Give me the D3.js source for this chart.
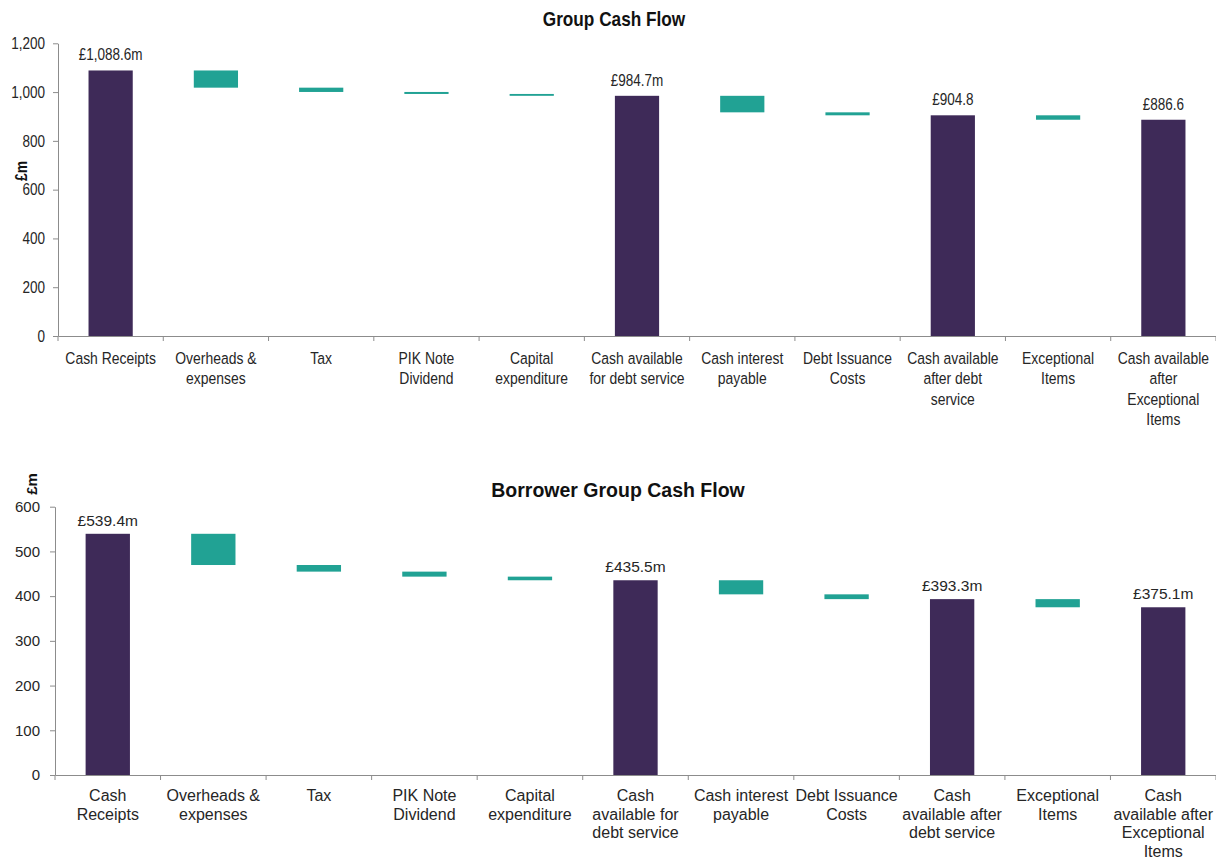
<!DOCTYPE html>
<html>
<head>
<meta charset="utf-8">
<script src="https://cdn.jsdelivr.net/npm/d3@7"></script>
<style>
  html, body { margin: 0; padding: 0; background: #fff; }
  svg { display: block; }
  svg text { font-family: "Liberation Sans", Arial, sans-serif; }
</style>
</head>
<body>
<svg id="chart" width="1216" height="858"></svg>
<script>
// Category labels, one array of lines per category
const groupCategories = [
  ["Cash Receipts"], ["Overheads &", "expenses"], ["Tax"], ["PIK Note", "Dividend"],
  ["Capital", "expenditure"], ["Cash available", "for debt service"], ["Cash interest", "payable"],
  ["Debt Issuance", "Costs"], ["Cash available", "after debt", "service"], ["Exceptional", "Items"],
  ["Cash available", "after", "Exceptional", "Items"]
];
const borrowerCategories = [
  ["Cash", "Receipts"], ["Overheads &", "expenses"], ["Tax"], ["PIK Note", "Dividend"],
  ["Capital", "expenditure"], ["Cash", "available for", "debt service"], ["Cash interest", "payable"],
  ["Debt Issuance", "Costs"], ["Cash", "available after", "debt service"], ["Exceptional", "Items"],
  ["Cash", "available after", "Exceptional", "Items"]
];

// Values in £m: positive entries are running totals, negative entries are outflows
const groupValues = [1088.6, -70.5, -17.6, -8.2, -7.6, 984.7, -67.7, -12.2, 904.8, -18.2, 886.6];
const borrowerValues = [539.4, -69.8, -14.8, -11.2, -8.1, 435.5, -31.5, -10.7, 393.3, -18.2, 375.1];

// Suffix printed after each total's value label
const groupLabelSuffix = ["m", "m", "", ""];
const borrowerLabelSuffix = ["m", "m", "m", "m"];

// Y axis ticks
const groupTicks = [0, 200, 400, 600, 800, 1000, 1200];
const borrowerTicks = [0, 100, 200, 300, 400, 500, 600];

const PURPLE = "#3e2a58";
const TEAL = "#21a294";
const AXIS = "#8c8c8c";
const TEXT = "#262626";

const svg = d3.select("#chart");

// Squeeze text horizontally about its anchor point
function condense(sel, k) {
  if (k === 1) return;
  sel.each(function () {
    const x = +this.getAttribute("x") || 0;
    d3.select(this).attr("transform", `translate(${x},0) scale(${k},1) translate(${-x},0)`);
  });
}

function drawPanel(opt) {
  const g = svg.append("g");

  const x = d3.scaleBand()
    .domain(d3.range(opt.categories.length))
    .range([opt.left, opt.right])
    .padding(0);
  const y = d3.scaleLinear()
    .domain([0, opt.ticks[opt.ticks.length - 1]])
    .range([opt.bottom, opt.top]);

  // Waterfall segments
  let running = 0;
  let totalIdx = 0;
  const bars = opt.values.map((v, i) => {
    if (v >= 0) {
      running = v;
      return { i, y0: 0, y1: v, total: true, label: "£" + d3.format(",.1f")(v) + opt.suffix[totalIdx++] };
    }
    const seg = { i, y0: running + v, y1: running, total: false };
    running += v;
    return seg;
  });

  const bw = x.bandwidth() * 0.42;

  g.append("g").selectAll("rect")
    .data(bars)
    .join("rect")
    .attr("x", d => x(d.i) + (x.bandwidth() - bw) / 2)
    .attr("width", bw)
    .attr("y", d => y(d.y1))
    .attr("height", d => Math.max(1.5, y(d.y0) - y(d.y1)))
    .attr("fill", d => d.total ? PURPLE : TEAL);

  // Value labels above totals
  const vl = g.append("g").selectAll("text")
    .data(bars.filter(d => d.total))
    .join("text")
    .attr("x", d => x(d.i) + x.bandwidth() / 2)
    .attr("y", d => y(d.y1) - opt.labelGap)
    .attr("text-anchor", "middle")
    .attr("font-size", opt.labelSize)
    .attr("fill", TEXT)
    .text(d => d.label);
  condense(vl, opt.squeeze);

  // Y axis
  const yAxis = g.append("g")
    .attr("transform", `translate(${opt.left},0)`)
    .call(d3.axisLeft(y).tickValues(opt.ticks).tickSize(5).tickSizeOuter(0)
      .tickPadding(opt.tickPad).tickFormat(d3.format(",")));
  yAxis.attr("font-family", null);
  yAxis.select(".domain").attr("stroke", AXIS);
  yAxis.selectAll(".tick line").attr("stroke", AXIS);
  const yt = yAxis.selectAll(".tick text").attr("font-size", opt.tickSize).attr("fill", TEXT);
  condense(yt, opt.squeeze);

  // X axis
  const xAxis = g.append("g")
    .attr("transform", `translate(0,${opt.bottom})`)
    .call(d3.axisBottom(x).tickSize(0).tickSizeOuter(0).tickFormat(""));
  xAxis.attr("font-family", null);
  xAxis.select(".domain").attr("stroke", AXIS);

  // Category boundary ticks
  g.append("g").selectAll("line")
    .data(d3.range(opt.categories.length + 1))
    .join("line")
    .attr("x1", i => opt.left + i * x.step())
    .attr("x2", i => opt.left + i * x.step())
    .attr("y1", opt.bottom)
    .attr("y2", opt.bottom + 5)
    .attr("stroke", AXIS);

  // Category labels
  const cat = g.append("g").selectAll("text")
    .data(opt.categories)
    .join("text")
    .attr("x", (d, i) => x(i) + x.bandwidth() / 2)
    .attr("y", opt.bottom + opt.catOffset)
    .attr("text-anchor", "middle")
    .attr("font-size", opt.catSize)
    .attr("fill", TEXT);
  cat.selectAll("tspan")
    .data(d => d)
    .join("tspan")
    .attr("x", function () { return this.parentNode.getAttribute("x"); })
    .attr("dy", (d, i) => i === 0 ? 0 : opt.lineHeight)
    .text(d => d);
  condense(cat, opt.squeeze);

  // Title
  const title = g.append("text")
    .attr("x", opt.titleX)
    .attr("y", opt.titleY)
    .attr("text-anchor", "middle")
    .attr("font-size", opt.titleSize)
    .attr("font-weight", "bold")
    .attr("fill", "#111")
    .text(opt.title);
  condense(title, opt.squeeze);

  // Unit label
  g.append("text")
    .attr("transform", `translate(${opt.unitX},${opt.unitY}) rotate(-90) scale(${opt.squeeze},1)`)
    .attr("text-anchor", "middle")
    .attr("dominant-baseline", "central")
    .attr("font-size", opt.unitSize)
    .attr("font-weight", "bold")
    .attr("fill", "#111")
    .text("£m");
}

drawPanel({
  squeeze: 0.82,
  title: "Group Cash Flow",
  titleX: 614, titleY: 26, titleSize: 21,
  categories: groupCategories,
  values: groupValues,
  suffix: groupLabelSuffix,
  ticks: groupTicks,
  left: 58, right: 1216, top: 43.3, bottom: 336,
  tickSize: 16.5, tickPad: 8,
  labelSize: 16.5, labelGap: 10,
  catSize: 17, catOffset: 28, lineHeight: 20.5,
  unitX: 20.5, unitY: 171, unitSize: 17
});

drawPanel({
  squeeze: 1,
  title: "Borrower Group Cash Flow",
  titleX: 618, titleY: 497, titleSize: 19.5,
  categories: borrowerCategories,
  values: borrowerValues,
  suffix: borrowerLabelSuffix,
  ticks: borrowerTicks,
  left: 55, right: 1216, top: 506.7, bottom: 775,
  tickSize: 15, tickPad: 10,
  labelSize: 15.5, labelGap: 8,
  catSize: 16, catOffset: 26, lineHeight: 18.5,
  unitX: 31, unitY: 484, unitSize: 15
});
</script>
</body>
</html>
